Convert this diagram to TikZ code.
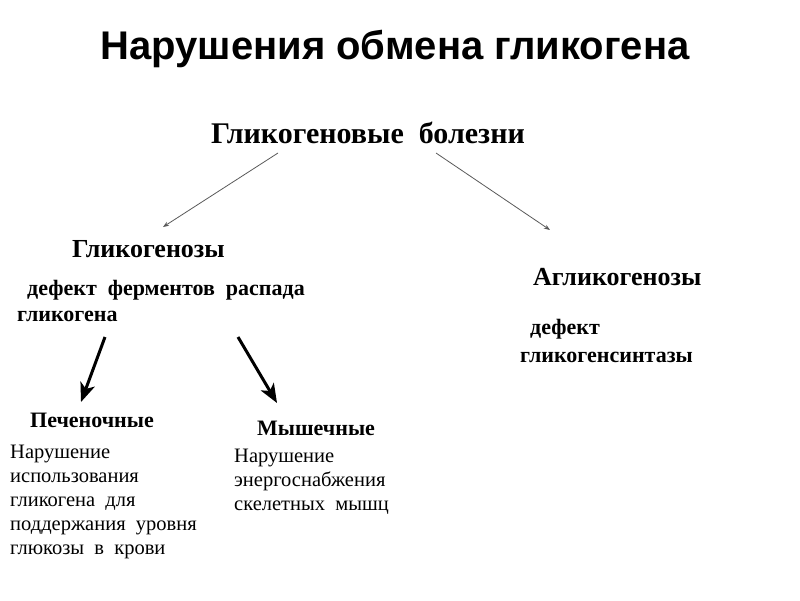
\documentclass[tikz,border=0pt]{standalone}
\usepackage{fontspec}
\setmainfont{Liberation Serif}
\newfontfamily\titlefont{Liberation Sans}
\usetikzlibrary{arrows.meta, positioning}

\begin{document}
\begin{tikzpicture}[x=1pt, y=-1pt,
  every node/.style={inner sep=0pt, anchor=base west},
  grouptitle/.style={font=\bfseries\fontsize{26}{30}\selectfont},
  defect/.style={font=\bfseries\fontsize{22}{26}\selectfont, align=left},
  descr/.style={font=\fontsize{20.5}{24}\selectfont, align=left},
  thinarrow/.style={draw=black!65, line width=0.8pt, -{Stealth[length=6pt,width=4.5pt]}},
  thickarrow/.style={line width=3pt, -{Stealth[length=19pt,width=15pt,inset=5pt]}}]
\useasboundingbox (0,0) rectangle (800,600);

% heading
\node [font=\titlefont\bfseries\fontsize{40}{46}\selectfont, anchor=base] (title) at (395,59) {Нарушения обмена гликогена};
\node [font=\bfseries\fontsize{30}{34}\selectfont, anchor=base] (disease) at (368,143) {Гликогеновые\ \ болезни};

% left branch
\node [grouptitle] (glyc) at (72,257) {Гликогенозы};
\node [defect] (glycdef) at (17,321) {\hspace*{10pt}дефект\ \ ферментов\ \ распада\\гликогена};

% right branch
\node [grouptitle] (aglyc) at (533,285) {Агликогенозы};
\node [defect, font=\bfseries\fontsize{22}{28}\selectfont] (aglycdef) at (520,362) {\hspace*{10pt}дефект\\гликогенсинтазы};

% liver and muscle forms
\node [defect] (liver) at (30,427) {Печеночные};
\node [descr] (liverdescr) at (10,554) {Нарушение\\использования\\гликогена\ \ для\\поддержания\ \ уровня\\глюкозы\ \ в\ \ крови};
\node [defect] (muscle) at (257,435) {Мышечные};
\node [descr] (muscledescr) at (234,510) {Нарушение\\энергоснабжения\\скелетных\ \ мышц};

% connectors
\draw [thinarrow] ([xshift=-90pt,yshift=-10pt]disease.base) -- ([xshift=91pt,yshift=30pt]glyc.base west);
\draw [thinarrow] ([xshift=68pt,yshift=-10pt]disease.base) -- ([xshift=17pt,yshift=55pt]aglyc.base west);
\draw [thickarrow] ([xshift=88pt,yshift=-16pt]glycdef.base west) -- ([xshift=51pt,yshift=25pt]liver.base west);
\draw [thickarrow] ([xshift=221pt,yshift=-16pt]glycdef.base west) -- ([xshift=20pt,yshift=32pt]muscle.base west);

\end{tikzpicture}
\end{document}
